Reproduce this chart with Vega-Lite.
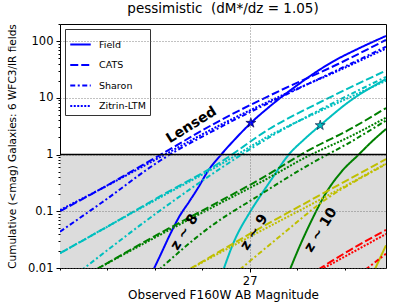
{
  "$schema": "https://vega.github.io/schema/vega-lite/v6.json",
  "width": 326,
  "height": 244,
  "autosize": {"type": "none"},
  "padding": {"left": 60, "top": 24, "right": 21, "bottom": 37},
  "title": {"text": "pessimistic \u00a0(dM*/dz = 1.05)", "fontSize": 13.5, "fontWeight": "normal", "font": "DejaVu Sans", "offset": 3, "anchor": "middle", "color": "black"},
  "config": {
    "font": "DejaVu Sans",
    "view": {"stroke": "black", "strokeWidth": 1},
    "axis": {"labelFont": "DejaVu Sans", "titleFont": "DejaVu Sans", "labelColor": "black", "titleColor": "black", "tickColor": "black", "titleFontWeight": "normal"},
    "legend": {"orient": "top-left", "offset": 5, "fillColor": "white", "strokeColor": "#333333", "padding": 4, "labelFont": "DejaVu Sans", "labelFontSize": 9.5, "labelColor": "black", "symbolType": "stroke", "symbolSize": 420, "symbolStrokeWidth": 2, "symbolStrokeColor": "#0000ff", "rowPadding": 4.5, "labelOffset": 7, "cornerRadius": 0}
  },
  "datasets": {
    "lines": [
      {"z": "z8", "s": "Field", "x": 25.37, "y": 0.009},
      {"z": "z8", "s": "Field", "x": 25.5, "y": 0.0174},
      {"z": "z8", "s": "Field", "x": 25.67, "y": 0.0417},
      {"z": "z8", "s": "Field", "x": 25.82, "y": 0.083},
      {"z": "z8", "s": "Field", "x": 25.98, "y": 0.148},
      {"z": "z8", "s": "Field", "x": 26.14, "y": 0.27},
      {"z": "z8", "s": "Field", "x": 26.29, "y": 0.501},
      {"z": "z8", "s": "Field", "x": 26.52, "y": 1.0},
      {"z": "z8", "s": "Field", "x": 26.77, "y": 1.95},
      {"z": "z8", "s": "Field", "x": 27.02, "y": 3.6},
      {"z": "z8", "s": "Field", "x": 27.33, "y": 6.92},
      {"z": "z8", "s": "Field", "x": 27.8, "y": 16.6},
      {"z": "z8", "s": "Field", "x": 28.39, "y": 42.7},
      {"z": "z8", "s": "Field", "x": 28.85, "y": 75},
      {"z": "z8", "s": "Field", "x": 29.3, "y": 123},
      {"z": "z8", "s": "CATS", "x": 23.8, "y": 0.1},
      {"z": "z8", "s": "CATS", "x": 24.5, "y": 0.251},
      {"z": "z8", "s": "CATS", "x": 25.5, "y": 1.0},
      {"z": "z8", "s": "CATS", "x": 26.5, "y": 3.98},
      {"z": "z8", "s": "CATS", "x": 27.5, "y": 13.2},
      {"z": "z8", "s": "CATS", "x": 28.5, "y": 39.8},
      {"z": "z8", "s": "CATS", "x": 29.3, "y": 105},
      {"z": "z8", "s": "Sharon", "x": 23.8, "y": 0.0437},
      {"z": "z8", "s": "Sharon", "x": 24.5, "y": 0.141},
      {"z": "z8", "s": "Sharon", "x": 25.5, "y": 0.794},
      {"z": "z8", "s": "Sharon", "x": 26.5, "y": 3.02},
      {"z": "z8", "s": "Sharon", "x": 27.5, "y": 10},
      {"z": "z8", "s": "Sharon", "x": 28.5, "y": 31.6},
      {"z": "z8", "s": "Sharon", "x": 29.3, "y": 79.4},
      {"z": "z8", "s": "Zitrin-LTM", "x": 23.8, "y": 0.105},
      {"z": "z8", "s": "Zitrin-LTM", "x": 24.5, "y": 0.251},
      {"z": "z8", "s": "Zitrin-LTM", "x": 25.5, "y": 0.912},
      {"z": "z8", "s": "Zitrin-LTM", "x": 26.5, "y": 3.31},
      {"z": "z8", "s": "Zitrin-LTM", "x": 27.5, "y": 10.5},
      {"z": "z8", "s": "Zitrin-LTM", "x": 28.5, "y": 30.2},
      {"z": "z8", "s": "Zitrin-LTM", "x": 29.3, "y": 74.1},
      {"z": "z9", "s": "Field", "x": 26.55, "y": 0.0089},
      {"z": "z9", "s": "Field", "x": 26.75, "y": 0.0316},
      {"z": "z9", "s": "Field", "x": 26.99, "y": 0.0912},
      {"z": "z9", "s": "Field", "x": 27.17, "y": 0.18},
      {"z": "z9", "s": "Field", "x": 27.36, "y": 0.355},
      {"z": "z9", "s": "Field", "x": 27.66, "y": 1},
      {"z": "z9", "s": "Field", "x": 27.92, "y": 1.85},
      {"z": "z9", "s": "Field", "x": 28.19, "y": 3.27},
      {"z": "z9", "s": "Field", "x": 28.7, "y": 8.91},
      {"z": "z9", "s": "Field", "x": 29.3, "y": 21.4},
      {"z": "z9", "s": "CATS", "x": 23.8, "y": 0.0182},
      {"z": "z9", "s": "CATS", "x": 24.5, "y": 0.0468},
      {"z": "z9", "s": "CATS", "x": 25.5, "y": 0.186},
      {"z": "z9", "s": "CATS", "x": 26.5, "y": 0.724},
      {"z": "z9", "s": "CATS", "x": 27.33, "y": 2.82},
      {"z": "z9", "s": "CATS", "x": 28.3, "y": 9.55},
      {"z": "z9", "s": "CATS", "x": 29.3, "y": 30.2},
      {"z": "z9", "s": "Sharon", "x": 24.15, "y": 0.0089},
      {"z": "z9", "s": "Sharon", "x": 25.51, "y": 0.107},
      {"z": "z9", "s": "Sharon", "x": 26.5, "y": 0.562},
      {"z": "z9", "s": "Sharon", "x": 27.33, "y": 2.0},
      {"z": "z9", "s": "Sharon", "x": 28.3, "y": 7.08},
      {"z": "z9", "s": "Sharon", "x": 29.3, "y": 23.4},
      {"z": "z9", "s": "Zitrin-LTM", "x": 23.8, "y": 0.0182},
      {"z": "z9", "s": "Zitrin-LTM", "x": 24.5, "y": 0.0468},
      {"z": "z9", "s": "Zitrin-LTM", "x": 25.5, "y": 0.178},
      {"z": "z9", "s": "Zitrin-LTM", "x": 26.5, "y": 0.661},
      {"z": "z9", "s": "Zitrin-LTM", "x": 27.33, "y": 2.14},
      {"z": "z9", "s": "Zitrin-LTM", "x": 28.3, "y": 6.61},
      {"z": "z9", "s": "Zitrin-LTM", "x": 29.3, "y": 20},
      {"z": "z10", "s": "Field", "x": 27.67, "y": 0.0089},
      {"z": "z10", "s": "Field", "x": 27.85, "y": 0.0251},
      {"z": "z10", "s": "Field", "x": 28.05, "y": 0.0708},
      {"z": "z10", "s": "Field", "x": 28.28, "y": 0.204},
      {"z": "z10", "s": "Field", "x": 28.55, "y": 0.501},
      {"z": "z10", "s": "Field", "x": 28.84, "y": 1},
      {"z": "z10", "s": "Field", "x": 29.05, "y": 1.65},
      {"z": "z10", "s": "Field", "x": 29.3, "y": 2.82},
      {"z": "z10", "s": "CATS", "x": 24.4, "y": 0.0093},
      {"z": "z10", "s": "CATS", "x": 25.48, "y": 0.0407},
      {"z": "z10", "s": "CATS", "x": 26.5, "y": 0.151},
      {"z": "z10", "s": "CATS", "x": 27.2, "y": 0.38},
      {"z": "z10", "s": "CATS", "x": 28.0, "y": 1.2},
      {"z": "z10", "s": "CATS", "x": 28.7, "y": 2.82},
      {"z": "z10", "s": "CATS", "x": 29.3, "y": 6.61},
      {"z": "z10", "s": "Sharon", "x": 25.45, "y": 0.0089},
      {"z": "z10", "s": "Sharon", "x": 26.3, "y": 0.0501},
      {"z": "z10", "s": "Sharon", "x": 27.16, "y": 0.191},
      {"z": "z10", "s": "Sharon", "x": 28.0, "y": 0.661},
      {"z": "z10", "s": "Sharon", "x": 28.7, "y": 1.66},
      {"z": "z10", "s": "Sharon", "x": 29.3, "y": 3.98},
      {"z": "z10", "s": "Zitrin-LTM", "x": 24.4, "y": 0.0093},
      {"z": "z10", "s": "Zitrin-LTM", "x": 25.48, "y": 0.038},
      {"z": "z10", "s": "Zitrin-LTM", "x": 26.5, "y": 0.138},
      {"z": "z10", "s": "Zitrin-LTM", "x": 27.2, "y": 0.331},
      {"z": "z10", "s": "Zitrin-LTM", "x": 28.0, "y": 0.955},
      {"z": "z10", "s": "Zitrin-LTM", "x": 28.7, "y": 2.09},
      {"z": "z10", "s": "Zitrin-LTM", "x": 29.3, "y": 4.47},
      {"z": "z11", "s": "Field", "x": 29.1, "y": 0.0089},
      {"z": "z11", "s": "Field", "x": 29.3, "y": 0.0251},
      {"z": "z11", "s": "CATS", "x": 25.97, "y": 0.0093},
      {"z": "z11", "s": "CATS", "x": 27.0, "y": 0.0398},
      {"z": "z11", "s": "CATS", "x": 28.0, "y": 0.151},
      {"z": "z11", "s": "CATS", "x": 29.3, "y": 0.832},
      {"z": "z11", "s": "Sharon", "x": 26.83, "y": 0.0093},
      {"z": "z11", "s": "Sharon", "x": 27.5, "y": 0.0355},
      {"z": "z11", "s": "Sharon", "x": 28.3, "y": 0.166},
      {"z": "z11", "s": "Sharon", "x": 29.02, "y": 0.468},
      {"z": "z11", "s": "Sharon", "x": 29.3, "y": 0.676},
      {"z": "z11", "s": "Zitrin-LTM", "x": 25.97, "y": 0.0093},
      {"z": "z11", "s": "Zitrin-LTM", "x": 27.0, "y": 0.0355},
      {"z": "z11", "s": "Zitrin-LTM", "x": 28.0, "y": 0.126},
      {"z": "z11", "s": "Zitrin-LTM", "x": 29.3, "y": 0.692},
      {"z": "z12", "s": "CATS", "x": 28.15, "y": 0.0093},
      {"z": "z12", "s": "CATS", "x": 28.7, "y": 0.0209},
      {"z": "z12", "s": "CATS", "x": 29.3, "y": 0.0468},
      {"z": "z12", "s": "Sharon", "x": 28.95, "y": 0.0093},
      {"z": "z12", "s": "Sharon", "x": 29.3, "y": 0.0178},
      {"z": "z12", "s": "Zitrin-LTM", "x": 28.2, "y": 0.0093},
      {"z": "z12", "s": "Zitrin-LTM", "x": 29.3, "y": 0.0398}
    ],
    "stars": [
      {"z": "z8", "x": 27.02, "y": 3.6},
      {"z": "z9", "x": 28.19, "y": 3.27}
    ],
    "lensed": [
      {"t": "Lensed", "x": 26.02, "y": 3.28}
    ],
    "zlabels": [
      {"t": "z ~ 8", "x": 25.9, "y": 0.0427},
      {"t": "z ~ 9", "x": 27.08, "y": 0.0427},
      {"t": "z ~ 10", "x": 28.2, "y": 0.0468}
    ],
    "one": [{"v": 1}]
  },
  "layer": [
    {
      "data": {"name": "one"},
      "mark": {"type": "rect", "color": "#dcdcdc"},
      "encoding": {
        "y": {"datum": 1, "type": "quantitative", "scale": {"type": "log", "domain": [0.01, 200], "nice": false}},
        "y2": {"datum": 0.01}
      }
    },
    {
      "data": {"name": "lines"},
      "mark": {"type": "line", "clip": true, "strokeWidth": 2, "interpolate": "monotone"},
      "encoding": {
        "x": {"field": "x", "type": "quantitative", "scale": {"domain": [23.8, 29.3], "nice": false, "zero": false},
          "axis": {"orient": "bottom", "title": "Observed F160W AB Magnitude", "titleFontSize": 12, "titlePadding": 3, "labelFontSize": 11.5, "labelPadding": 3, "labelOverlap": false, "labelFlush": false, "domain": false, "zindex": 1,
            "values": [23.8, 24, 24.2, 24.4, 24.6, 24.8, 25, 25.2, 25.4, 25.6, 25.8, 26, 26.2, 26.4, 26.6, 26.8, 27, 27.2, 27.4, 27.6, 27.8, 28, 28.2, 28.4, 28.6, 28.8, 29, 29.2],
            "labelExpr": "abs(datum.value - round(datum.value)) < 0.001 ? format(datum.value, 'd') : ''",
            "tickSize": {"condition": {"test": "abs(datum.value - round(datum.value)) < 0.001", "value": 4}, "value": 2},
            "grid": true, "gridColor": "#666666", "gridDash": [1, 2], "gridWidth": 0.8,
            "gridOpacity": {"condition": {"test": "abs(datum.value - round(datum.value)) < 0.001", "value": 1}, "value": 0}}},
        "y": {"field": "y", "type": "quantitative",
          "axis": {"orient": "left", "title": "Cumulative (<mag) Galaxies: 6 WFC3/IR fields", "titleFontSize": 10.5, "titlePadding": 10, "labelFontSize": 11.5, "labelPadding": 3, "labelOverlap": false, "labelFlush": false, "domain": false, "zindex": 1,
            "values": [0.01, 0.02, 0.03, 0.04, 0.05, 0.06, 0.07, 0.08, 0.09, 0.1, 0.2, 0.3, 0.4, 0.5, 0.6, 0.7, 0.8, 0.9, 1, 2, 3, 4, 5, 6, 7, 8, 9, 10, 20, 30, 40, 50, 60, 70, 80, 90, 100, 200],
            "labelExpr": "abs(log(datum.value)/LN10 - round(log(datum.value)/LN10)) < 0.001 ? format(datum.value, '~g') : ''",
            "tickSize": {"condition": {"test": "abs(log(datum.value)/LN10 - round(log(datum.value)/LN10)) < 0.001", "value": 4}, "value": 2},
            "grid": true, "gridColor": "#666666", "gridDash": [1, 2], "gridWidth": 0.8,
            "gridOpacity": {"condition": {"test": "abs(log(datum.value)/LN10 - round(log(datum.value)/LN10)) < 0.001", "value": 1}, "value": 0}}},
        "color": {"field": "z", "type": "nominal", "legend": null,
          "scale": {"domain": ["z8", "z9", "z10", "z11", "z12"], "range": ["#0000ff", "#00bfbf", "#008000", "#bfbf00", "#ff0000"]}},
        "strokeDash": {"field": "s", "type": "nominal", "title": null,
          "scale": {"domain": ["Field", "CATS", "Sharon", "Zitrin-LTM"], "range": [[1, 0], [8, 3], [5, 2.5, 2, 2.5], [2, 1.5]]}}
      }
    },
    {
      "data": {"name": "one"},
      "mark": {"type": "rule", "color": "black", "strokeWidth": 1.5},
      "encoding": {"y": {"datum": 1, "type": "quantitative"}}
    },
    {
      "data": {"name": "stars"},
      "mark": {"type": "point", "shape": "M0,-1L0.2245,-0.309L0.951,-0.309L0.363,0.118L0.588,0.809L0,0.382L-0.588,0.809L-0.363,0.118L-0.951,-0.309L-0.2245,-0.309Z", "filled": true, "size": 110, "stroke": "#000033", "strokeWidth": 0.6, "opacity": 1},
      "encoding": {
        "x": {"field": "x", "type": "quantitative"},
        "y": {"field": "y", "type": "quantitative"},
        "color": {"field": "z", "type": "nominal", "legend": null}
      }
    },
    {
      "data": {"name": "lensed"},
      "mark": {"type": "text", "angle": -32, "fontSize": 14, "fontWeight": "bold", "font": "DejaVu Sans", "color": "black", "align": "center", "baseline": "middle"},
      "encoding": {
        "x": {"field": "x", "type": "quantitative"},
        "y": {"field": "y", "type": "quantitative"},
        "text": {"field": "t", "type": "nominal"}
      }
    },
    {
      "data": {"name": "zlabels"},
      "mark": {"type": "text", "angle": -58, "fontSize": 14, "fontWeight": "bold", "font": "DejaVu Sans", "color": "black", "align": "center", "baseline": "middle"},
      "encoding": {
        "x": {"field": "x", "type": "quantitative"},
        "y": {"field": "y", "type": "quantitative"},
        "text": {"field": "t", "type": "nominal"}
      }
    }
  ]
}
